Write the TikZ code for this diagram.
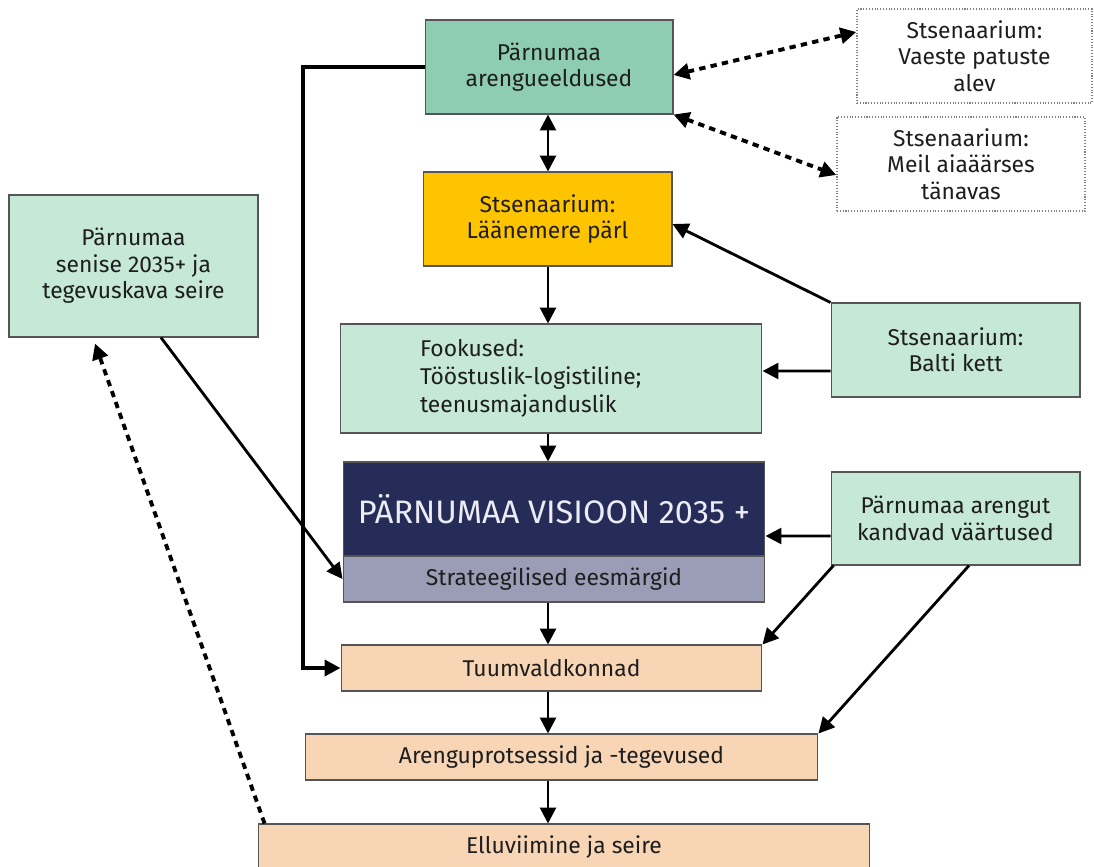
\documentclass[tikz,border=0pt]{standalone}
\usepackage{fontspec}
\setmainfont{Fira Sans}
\usepackage{tikz}
\usetikzlibrary{arrows.meta}

\definecolor{eeldgreen}{RGB}{142,205,178}
\definecolor{mint}{RGB}{197,232,215}
\definecolor{parlyellow}{RGB}{255,196,0}
\definecolor{visnavy}{RGB}{38,44,88}
\definecolor{goalgrey}{RGB}{154,157,181}
\definecolor{peach}{RGB}{247,213,181}
\definecolor{edgegrey}{RGB}{85,85,85}
\definecolor{ink}{RGB}{30,30,30}

\begin{document}
\begin{tikzpicture}[x=0.02cm,y=-0.02cm,
		box/.style={draw=edgegrey,line width=0.6pt,inner sep=0pt,align=center,text=ink,font=\fontsize{13}{15}\selectfont},
		scen/.style={box,draw=gray,densely dotted,line width=0.9pt,fill=white},
		flow/.style={-{Triangle[length=9pt,width=9pt]},line width=1.6pt},
		twoway/.style={{Triangle[length=9pt,width=9pt]}-{Triangle[length=9pt,width=9pt]},line width=1.6pt},
		dotlink/.style={twoway,dash pattern=on 3.6pt off 3pt,line width=2.2pt}]
			\clip (0,0) rectangle (1094,866);
			\node (eeld) at (549,67) [box,fill=eeldgreen,minimum width=4.96cm,minimum height=1.88cm] {Pärnumaa\\arengueeldused};
			\node (vaeste) at (974.5,56) [scen,minimum width=4.7cm,minimum height=1.88cm] {Stsenaarium:\\Vaeste patuste\\alev};
			\node (meil) at (961,164) [scen,minimum width=4.96cm,minimum height=1.88cm] {Stsenaarium:\\Meil aiaäärses\\tänavas};
			\node (parl) at (547.5,219) [box,fill=parlyellow,minimum width=4.98cm,minimum height=1.88cm] {Stsenaarium:\\Läänemere pärl};
			\node (seire) at (133.5,266) [box,fill=mint,minimum width=4.98cm,minimum height=2.84cm] {Pärnumaa\\senise 2035+ ja\\tegevuskava seire};
			\node (fook) at (551,378.5) [box,fill=mint,minimum width=8.44cm,minimum height=2.18cm,text width=5.24cm,align=left,font=\fontsize{13}{16}\selectfont] {Fookused:\\Tööstuslik-logistiline;\\teenusmajanduslik};
			\node (balti) at (955.5,350) [box,fill=mint,minimum width=4.98cm,minimum height=1.88cm] {Stsenaarium:\\Balti kett};
			\node (vis) at (554,509) [box,fill=visnavy,minimum width=8.44cm,minimum height=1.88cm,text={rgb,255:red,236;green,236;blue,246},font=\fontsize{18.5}{21}\selectfont] {PÄRNUMAA VISIOON 2035 +};
			\node (eesm) at (554,579) [box,fill=goalgrey,minimum width=8.44cm,minimum height=0.92cm] {Strateegilised eesmärgid};
			\node (vaart) at (955.5,518.5) [box,fill=mint,minimum width=4.98cm,minimum height=1.86cm] {Pärnumaa arengut\\kandvad väärtused};
			\node (tuum) at (551.5,668) [box,fill=peach,minimum width=8.42cm,minimum height=0.92cm] {Tuumvaldkonnad};
			\node (arengu) at (561.5,757) [box,fill=peach,minimum width=10.26cm,minimum height=0.92cm] {Arenguprotsessid ja -tegevused};
			\node (ellu) at (564,847) [box,fill=peach,minimum width=12.24cm,minimum height=0.92cm] {Elluviimine ja seire};
			\coordinate (axis) at (548,0);
			\coordinate (corner) at (303,0);
			% main chain
			\draw[twoway] (eeld.south -| axis) -- (parl.north -| axis);
			\draw[flow] (parl.south -| axis) -- (fook.north -| axis);
			\draw[flow] (fook.south -| axis) -- (vis.north -| axis);
			\draw[flow] (eesm.south -| axis) -- (tuum.north -| axis);
			\draw[flow] (tuum.south -| axis) -- (arengu.north -| axis);
			\draw[flow] (arengu.south -| axis) -- (ellu.north -| axis);
			\draw[flow,line width=2.2pt] (eeld.west) -- (eeld.west -| corner) |- (tuum.west);
			% scenarios
			\draw[dotlink] ([yshift=-0.16cm]eeld.east) -- ([yshift=0.48cm]vaeste.west);
			\draw[dotlink] (eeld.south east) -- ([yshift=-0.22cm]meil.west);
			\draw[flow] (balti.north west) -- ([yshift=-0.1cm]parl.east);
			\draw[flow] ([yshift=-0.42cm]balti.west) -- ([yshift=0.15cm]fook.east);
			% values
			\draw[flow] ([yshift=-0.35cm]vaart.west) -- ([yshift=-0.54cm]vis.east);
			\draw[flow] ([xshift=0.06cm]vaart.south west) -- (tuum.north east);
			\draw[flow] ([xshift=0.27cm]vaart.south) -- (arengu.north east);
			% monitoring
			\draw[flow] ([xshift=0.55cm]seire.south) -- (eesm.west);
			\draw[flow,dash pattern=on 3.6pt off 3pt,line width=2.2pt] ([xshift=0.14cm]ellu.north west) -- ([xshift=-0.77cm,yshift=-0.12cm]seire.south);
		\end{tikzpicture}
\end{document}
